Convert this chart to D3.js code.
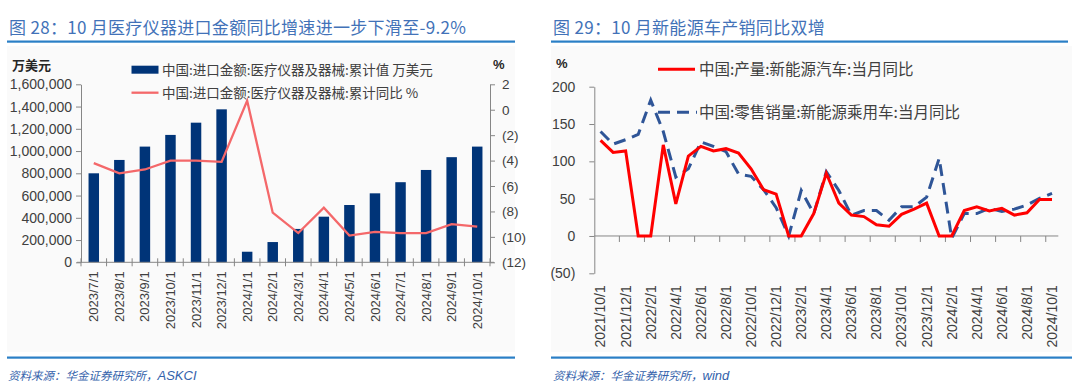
<!DOCTYPE html>
<html><head><meta charset="utf-8">
<script src="https://cdn.jsdelivr.net/npm/d3@7"></script>
<style>
body{margin:0;background:#fff;}
svg{display:block;}
</style></head>
<body>
<svg id="c" width="1080" height="389"></svg>
<script>
// ---------- data: left chart ----------
const leftCategories = ["2023/7/1","2023/8/1","2023/9/1","2023/10/1","2023/11/1","2023/12/1","2024/1/1","2024/2/1","2024/3/1","2024/4/1","2024/5/1","2024/6/1","2024/7/1","2024/8/1","2024/9/1","2024/10/1"];
const importValue = [800000,920000,1040000,1145000,1255000,1375000,95000,182000,300000,410000,515000,620000,720000,830000,945000,1040000];
const importYoY = [-4.2,-5.0,-4.7,-4.0,-4.0,-4.1,0.7,-8.1,-9.7,-7.7,-9.9,-9.6,-9.7,-9.7,-9.0,-9.2];
const leftYTicks = [0,200000,400000,600000,800000,1000000,1200000,1400000,1600000];
const rightYTicks = [-12,-10,-8,-6,-4,-2,0,2];

// ---------- data: right chart ----------
const rightCategories = ["2021/10/1","2021/11/1","2021/12/1","2022/1/1","2022/2/1","2022/3/1","2022/4/1","2022/5/1","2022/6/1","2022/7/1","2022/8/1","2022/9/1","2022/10/1","2022/11/1","2022/12/1","2023/1/1","2023/2/1","2023/3/1","2023/4/1","2023/5/1","2023/6/1","2023/7/1","2023/8/1","2023/9/1","2023/10/1","2023/11/1","2023/12/1","2024/1/1","2024/2/1","2024/3/1","2024/4/1","2024/5/1","2024/6/1","2024/7/1","2024/8/1","2024/9/1","2024/10/1"];
const nevProduction = [128,112,114,0,0,122,43,107,120,114,117,111,90,62,56,0,0,30,84,44,28,26,15,13,29,36,44,0,0,34,39,33.5,37,28,31,49,49];
const nevRetail = [140,123,129,136,182,140,79,90,126,120,113,83,80,62,38,0,61,30,86,61,28,34,34,21,39,39,52,104,-3,30,30,37,33,36,41.5,50.5,57];
const pctTicks = [-50,0,50,100,150,200];

const svg = d3.select("#c");
const CJK = "'Noto Sans CJK SC','Noto Sans',sans-serif";
const NUM = "'Liberation Sans',Arial,sans-serif";
const axisCol = "#868686";
const textCol = "#404040";

// backgrounds
svg.append("rect").attr("x",7).attr("y",46).attr("width",508).attr("height",306).attr("fill","#fafafa");
svg.append("rect").attr("x",551).attr("y",46).attr("width",521).attr("height",306).attr("fill","#fafafa");

// titles
function title(x,txt){
  svg.append("text").attr("x",x).attr("y",34).text(txt)
    .attr("font-family",CJK).attr("font-size",17).attr("letter-spacing","0.3px").attr("fill","#4272b8");
}
title(9,"图 28：10 月医疗仪器进口金额同比增速进一步下滑至-9.2%");
title(553,"图 29：10 月新能源车产销同比双增");
svg.append("rect").attr("x",7).attr("y",40.5).attr("width",508).attr("height",2.2).attr("fill","#2a7fc6");
svg.append("rect").attr("x",551).attr("y",40.5).attr("width",517).attr("height",2.2).attr("fill","#2a7fc6");
svg.append("rect").attr("x",7).attr("y",356.5).attr("width",508).attr("height",2.2).attr("fill","#2a7fc6");
svg.append("rect").attr("x",551).attr("y",356.5).attr("width",521).attr("height",2.2).attr("fill","#2a7fc6");
function footer(x,cn,en){
  const t = svg.append("text").attr("x",x).attr("y",380).attr("font-style","italic").attr("fill","#3462ab");
  t.append("tspan").attr("font-family",CJK).attr("font-size",11.5).text(cn);
  t.append("tspan").attr("font-family",NUM).attr("font-size",13).text(en);
}
footer(8,"资料来源：华金证券研究所，","ASKCI");
footer(553,"资料来源：华金证券研究所，","wind");

// ---------- left chart ----------
const L = {x0:81, x1:490, yTop:84.3, yBot:262.3};
const xL = d3.scaleBand().domain(leftCategories).range([L.x0,L.x1]).paddingInner(0).paddingOuter(0);
const yL = d3.scaleLinear().domain([0,1600000]).range([L.yBot,L.yTop]);
const yR = d3.scaleLinear().domain([-12,2]).range([L.yBot,L.yTop]);
const gL = svg.append("g");

const bw = xL.bandwidth()*0.41;
gL.selectAll("rect.bar").data(importValue).join("rect").attr("class","bar")
  .attr("x",(d,i)=>xL(leftCategories[i])+xL.bandwidth()/2-bw/2)
  .attr("y",d=>yL(d)).attr("width",bw).attr("height",d=>yL(0)-yL(d))
  .attr("fill","#003478");

function styleAxis(g,fs,ff){
  g.select(".domain").attr("stroke",axisCol).attr("stroke-width",1);
  g.selectAll(".tick line").attr("stroke",axisCol);
  g.selectAll(".tick text").attr("fill",textCol).attr("font-family",ff||NUM).attr("font-size",fs);
}
const axL = gL.append("g").attr("transform",`translate(${L.x0},0)`)
  .call(d3.axisLeft(yL).tickValues(leftYTicks).tickSize(5).tickSizeOuter(0).tickPadding(4).tickFormat(d3.format(",")));
styleAxis(axL,14);
const axR = gL.append("g").attr("transform",`translate(${L.x1},0)`)
  .call(d3.axisRight(yR).tickValues(rightYTicks).tickSize(5).tickSizeOuter(0).tickPadding(7).tickFormat(v=>v<0?`(${-v})`:`${v}`));
styleAxis(axR,13.5);

// x axis
const axB = gL.append("g").attr("transform",`translate(0,${L.yBot})`)
  .call(d3.axisBottom(xL).tickSize(0).tickFormat(d=>d));
axB.select(".domain").remove();
gL.append("line").attr("x1",L.x0-4).attr("x2",L.x1+4).attr("y1",L.yBot).attr("y2",L.yBot).attr("stroke",axisCol);
const bounds = leftCategories.map(c=>xL(c)).concat([L.x1]);
gL.selectAll("line.xt").data(bounds).join("line").attr("class","xt")
  .attr("x1",d=>d).attr("x2",d=>d).attr("y1",L.yBot-4).attr("y2",L.yBot+4).attr("stroke",axisCol);
axB.selectAll(".tick text").attr("transform","rotate(-90)").attr("text-anchor","end")
  .attr("x",-9).attr("y",0).attr("dy","0.35em").attr("fill",textCol).attr("font-family",NUM).attr("font-size",13);

// line
const lineL = d3.line().x((d,i)=>xL(leftCategories[i])+xL.bandwidth()/2).y(d=>yR(d));
gL.append("path").datum(importYoY).attr("d",lineL).attr("fill","none").attr("stroke","#f4686a").attr("stroke-width",2.3);

// labels
gL.append("text").attr("x",12).attr("y",70).text("万美元").attr("font-family",CJK).attr("font-size",13).attr("font-weight","bold").attr("fill","#262626");
gL.append("text").attr("x",493).attr("y",69).text("%").attr("font-family",NUM).attr("font-size",13).attr("font-weight","bold").attr("fill","#262626");

// legend
gL.append("rect").attr("x",131.5).attr("y",65.7).attr("width",27).attr("height",8).attr("fill","#003478");
gL.append("text").attr("x",162).attr("y",74.5).text("中国:进口金额:医疗仪器及器械:累计值 万美元").attr("font-family",CJK).attr("font-size",13.5).attr("fill",textCol);
gL.append("line").attr("x1",131.5).attr("x2",158.5).attr("y1",92.7).attr("y2",92.7).attr("stroke","#f4686a").attr("stroke-width",2.3);
gL.append("text").attr("x",162).attr("y",97.5).text("中国:进口金额:医疗仪器及器械:累计同比 %").attr("font-family",CJK).attr("font-size",13.5).attr("fill",textCol);

// ---------- right chart ----------
const R = {x0:594.3, x1:1058.3};
const xC = d3.scaleBand().domain(rightCategories).range([R.x0,R.x1]).padding(0);
const yC = d3.scaleLinear().domain([-50,200]).range([273.3,86.7]);
const gR = svg.append("g");

const axC = gR.append("g").attr("transform",`translate(${R.x0},0)`)
  .call(d3.axisLeft(yC).tickValues(pctTicks).tickSize(5).tickSizeOuter(0).tickPadding(14).tickFormat(v=>v<0?`(${-v})`:`${v}`));
styleAxis(axC,14);

// x axis at zero
gR.append("line").attr("x1",R.x0).attr("x2",R.x1).attr("y1",yC(0)).attr("y2",yC(0)).attr("stroke",axisCol);
const tickCats = rightCategories.filter((c,i)=>i>0 && i%2===0);
gR.selectAll("line.ct").data(tickCats).join("line").attr("class","ct")
  .attr("x1",d=>xC(d)).attr("x2",d=>xC(d)).attr("y1",yC(0)).attr("y2",yC(0)+6).attr("stroke",axisCol);
const labelCats = rightCategories.filter((c,i)=>i%2===0);
const axCB = gR.append("g").attr("transform","translate(0,273.3)")
  .call(d3.axisBottom(xC).tickValues(labelCats).tickSize(0).tickFormat(d=>d));
axCB.select(".domain").remove();
axCB.selectAll(".tick text").attr("transform","rotate(-90)").attr("text-anchor","end")
  .attr("x",-12).attr("y",0).attr("dy","0.35em").attr("fill",textCol).attr("font-family",NUM).attr("font-size",14);

const lineC = d3.line().x((d,i)=>xC(rightCategories[i])+xC.bandwidth()/2).y(d=>yC(d));
gR.append("path").datum(nevRetail).attr("d",lineC).attr("fill","none").attr("stroke","#2f5597").attr("stroke-width",3).attr("stroke-dasharray","12,7");
gR.append("path").datum(nevProduction).attr("d",lineC).attr("fill","none").attr("stroke","#ff0000").attr("stroke-width",3);

gR.append("text").attr("x",556).attr("y",68).text("%").attr("font-family",NUM).attr("font-size",13).attr("font-weight","bold").attr("fill","#262626");
gR.append("line").attr("x1",658).attr("x2",695).attr("y1",69.3).attr("y2",69.3).attr("stroke","#ff0000").attr("stroke-width",3);
gR.append("text").attr("x",699).attr("y",75).text("中国:产量:新能源汽车:当月同比").attr("font-family",CJK).attr("font-size",15.5).attr("fill",textCol);
gR.append("line").attr("x1",658).attr("x2",697).attr("y1",112.3).attr("y2",112.3).attr("stroke","#2f5597").attr("stroke-width",3).attr("stroke-dasharray","12,7");
gR.append("text").attr("x",699).attr("y",118).text("中国:零售销量:新能源乘用车:当月同比").attr("font-family",CJK).attr("font-size",15.5).attr("fill",textCol);
</script>
</body></html>
